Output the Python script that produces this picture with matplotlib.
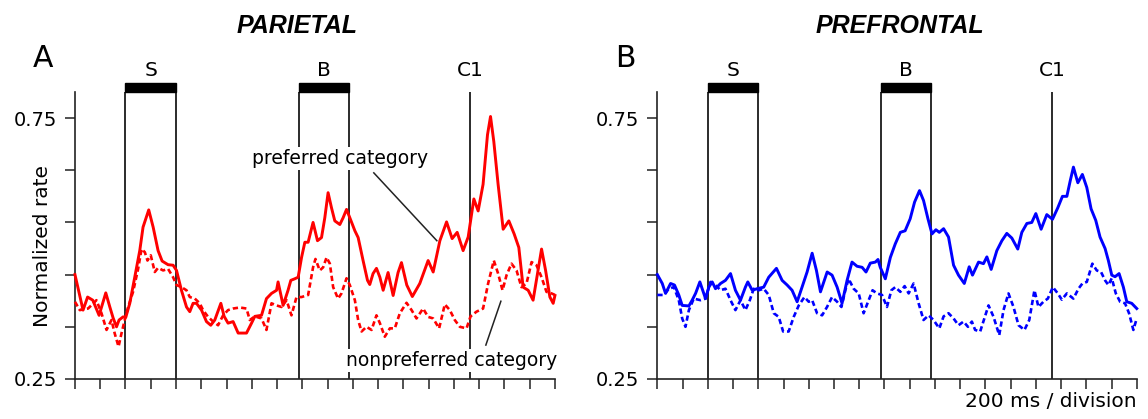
import numpy as np
import matplotlib.pyplot as plt
from matplotlib.patches import Rectangle

# Event times (ms, relative to sample onset)
events = {'S': (0, 400), 'B': (1370, 1770)}
c1_time = 2730

# Parietal, preferred category (solid red)
par_pref_t = [-400, -336, -300, -259, -209, -156, -124, -98, -71, -51, -19, 2, 34, 74, 113, 139,
              184, 219, 258, 290, 337, 377, 404, 443, 483, 509, 535, 562, 602, 641, 675, 707,
              755, 781, 812, 852, 892, 918, 958, 998, 1024, 1077, 1116, 1156, 1196, 1208, 1248,
              1287, 1309, 1340, 1367, 1394, 1420, 1446, 1485, 1520, 1552, 1578, 1604, 1631,
              1657, 1697, 1723, 1750, 1776, 1816, 1842, 1881, 1916, 1934, 1960, 1987, 2014,
              2040, 2079, 2119, 2158, 2185, 2227, 2271, 2330, 2396, 2436, 2489, 2542, 2586,
              2626, 2673, 2713, 2758, 2792, 2831, 2866, 2890, 2916, 2950, 2990, 3035, 3077,
              3114, 3148, 3188, 3227, 3262, 3294, 3326, 3360, 3386, 3400]
par_pref_v = [0.450, 0.382, 0.407, 0.401, 0.372, 0.415, 0.388, 0.367, 0.350, 0.363, 0.369, 0.368,
              0.395, 0.446, 0.496, 0.541, 0.574, 0.541, 0.496, 0.476, 0.469, 0.468, 0.458, 0.420,
              0.388, 0.379, 0.395, 0.395, 0.382, 0.360, 0.353, 0.363, 0.395, 0.370, 0.357, 0.360,
              0.338, 0.338, 0.338, 0.357, 0.370, 0.372, 0.404, 0.414, 0.420, 0.436, 0.391, 0.420,
              0.439, 0.442, 0.445, 0.483, 0.512, 0.512, 0.550, 0.515, 0.521, 0.559, 0.607, 0.578,
              0.553, 0.546, 0.559, 0.575, 0.559, 0.534, 0.521, 0.477, 0.439, 0.431, 0.452, 0.462,
              0.445, 0.420, 0.454, 0.410, 0.454, 0.473, 0.430, 0.408, 0.433, 0.477, 0.455, 0.515,
              0.551, 0.519, 0.531, 0.496, 0.522, 0.595, 0.572, 0.623, 0.718, 0.753, 0.705, 0.623,
              0.537, 0.553, 0.528, 0.502, 0.426, 0.420, 0.401, 0.452, 0.499, 0.458, 0.407, 0.395,
              0.410]

# Parietal, nonpreferred category (dashed red)
par_non_t = [-400, -362, -296, -230, -190, -150, -111, -85, -55, -32, -6, 21, 60, 100, 127, 153,
             174, 200, 232, 258, 298, 337, 377, 404, 443, 483, 509, 549, 588, 614, 654, 694, 733,
             773, 812, 852, 905, 958, 984, 1024, 1077, 1116, 1156, 1196, 1235, 1275, 1314, 1354,
             1394, 1446, 1485, 1504, 1538, 1565, 1592, 1618, 1644, 1683, 1710, 1750, 1776, 1816,
             1842, 1869, 1908, 1948, 1987, 2014, 2053, 2093, 2132, 2172, 2225, 2265, 2304, 2356,
             2396, 2436, 2483, 2528, 2568, 2607, 2647, 2700, 2732, 2779, 2831, 2871, 2916, 2950,
             2985, 3017, 3056, 3096, 3135, 3175, 3215, 3254, 3294, 3333, 3373, 3400]
par_non_v = [0.398, 0.382, 0.385, 0.401, 0.376, 0.344, 0.363, 0.337, 0.312, 0.337, 0.363, 0.388,
             0.417, 0.461, 0.499, 0.493, 0.477, 0.487, 0.455, 0.463, 0.458, 0.461, 0.445, 0.430,
             0.426, 0.420, 0.407, 0.404, 0.395, 0.382, 0.369, 0.360, 0.353, 0.372, 0.382, 0.385,
             0.387, 0.385, 0.363, 0.370, 0.366, 0.344, 0.395, 0.391, 0.388, 0.401, 0.372, 0.407,
             0.407, 0.411, 0.464, 0.480, 0.458, 0.464, 0.483, 0.471, 0.426, 0.404, 0.414, 0.443,
             0.430, 0.401, 0.363, 0.341, 0.350, 0.344, 0.372, 0.357, 0.331, 0.347, 0.347, 0.376,
             0.396, 0.382, 0.366, 0.385, 0.369, 0.366, 0.347, 0.393, 0.382, 0.363, 0.350, 0.347,
             0.370, 0.379, 0.385, 0.433, 0.477, 0.452, 0.420, 0.449, 0.471, 0.458, 0.426, 0.433,
             0.474, 0.468, 0.445, 0.417, 0.414, 0.411]

# Prefrontal, preferred category (solid blue)
pfc_pref_t = [-400, -361, -335, -295, -264, -230, -203, -150, -124, -97, -63, -18, 8, 35, 61, 101,
              140, 180, 219, 259, 298, 317, 352, 391, 443, 483, 544, 589, 629, 668, 708, 747, 787,
              827, 861, 893, 946, 985, 1025, 1064, 1104, 1143, 1183, 1223, 1254, 1288, 1328, 1349,
              1367, 1407, 1447, 1486, 1526, 1564, 1604, 1639, 1678, 1710, 1745, 1777, 1808, 1835,
              1869, 1908, 1948, 1987, 2033, 2072, 2098, 2146, 2185, 2212, 2246, 2291, 2331, 2370,
              2410, 2457, 2489, 2529, 2568, 2600, 2642, 2687, 2732, 2774, 2811, 2846, 2872, 2898,
              2933, 2969, 3004, 3038, 3075, 3109, 3149, 3175, 3202, 3228, 3260, 3294, 3321, 3360,
              3400]
pfc_pref_v = [0.450, 0.433, 0.414, 0.433, 0.430, 0.411, 0.391, 0.390, 0.401, 0.414, 0.436, 0.404,
              0.426, 0.436, 0.423, 0.433, 0.439, 0.452, 0.420, 0.401, 0.426, 0.436, 0.420, 0.423,
              0.426, 0.445, 0.462, 0.439, 0.430, 0.420, 0.398, 0.426, 0.455, 0.491, 0.458, 0.417,
              0.455, 0.449, 0.426, 0.395, 0.439, 0.474, 0.466, 0.464, 0.455, 0.472, 0.474, 0.479,
              0.464, 0.442, 0.483, 0.509, 0.531, 0.534, 0.557, 0.589, 0.611, 0.592, 0.557, 0.528,
              0.536, 0.531, 0.538, 0.522, 0.468, 0.449, 0.433, 0.465, 0.449, 0.474, 0.471, 0.484,
              0.460, 0.496, 0.515, 0.529, 0.520, 0.499, 0.531, 0.548, 0.550, 0.567, 0.537, 0.565,
              0.556, 0.578, 0.600, 0.600, 0.629, 0.656, 0.626, 0.642, 0.617, 0.576, 0.554, 0.522,
              0.500, 0.477, 0.449, 0.446, 0.452, 0.426, 0.398, 0.395, 0.385]

# Prefrontal, nonpreferred category (dashed blue)
pfc_non_t = [-400, -348, -309, -269, -230, -203, -177, -150, -111, -58, -18, 21, 61, 101, 140, 180,
             219, 259, 298, 333, 364, 404, 443, 483, 523, 562, 597, 641, 681, 721, 766, 800, 827,
             866, 906, 945, 985, 1025, 1059, 1090, 1116, 1156, 1196, 1235, 1275, 1306, 1341, 1381,
             1420, 1455, 1486, 1526, 1560, 1592, 1631, 1671, 1710, 1750, 1789, 1835, 1869, 1908,
             1948, 1987, 2027, 2062, 2093, 2119, 2159, 2225, 2265, 2310, 2344, 2383, 2423, 2463,
             2510, 2548, 2589, 2621, 2660, 2695, 2735, 2774, 2806, 2846, 2898, 2938, 2969, 3004,
             3048, 3083, 3117, 3149, 3175, 3202, 3234, 3268, 3307, 3339, 3373, 3400]
pfc_non_v = [0.411, 0.411, 0.423, 0.426, 0.401, 0.366, 0.350, 0.382, 0.404, 0.401, 0.404, 0.436,
             0.430, 0.420, 0.423, 0.401, 0.382, 0.401, 0.382, 0.401, 0.423, 0.420, 0.423, 0.411,
             0.376, 0.369, 0.341, 0.341, 0.369, 0.391, 0.407, 0.398, 0.401, 0.376, 0.372, 0.388,
             0.407, 0.398, 0.388, 0.420, 0.442, 0.423, 0.414, 0.376, 0.401, 0.420, 0.414, 0.411,
             0.388, 0.420, 0.426, 0.417, 0.428, 0.414, 0.433, 0.395, 0.363, 0.372, 0.363, 0.347,
             0.370, 0.376, 0.366, 0.353, 0.360, 0.350, 0.360, 0.344, 0.341, 0.391, 0.369, 0.334,
             0.382, 0.414, 0.388, 0.353, 0.344, 0.363, 0.420, 0.388, 0.398, 0.404, 0.426, 0.414,
             0.402, 0.414, 0.404, 0.423, 0.433, 0.436, 0.471, 0.458, 0.455, 0.439, 0.430, 0.443,
             0.414, 0.398, 0.395, 0.376, 0.344, 0.366]

x_ticks = np.arange(-400, 3401, 200)
y_ticks = [0.25, 0.35, 0.45, 0.55, 0.65, 0.75]
y_ticklabels = ['0.25', '', '', '', '', '0.75']

plt.rcParams['font.family'] = 'DejaVu Sans'
fig = plt.figure(figsize=(11.48, 4.19), dpi=100)
ax1 = fig.add_axes([0.0653, 0.0955, 0.4181, 0.685])
ax2 = fig.add_axes([0.5726, 0.0955, 0.4176, 0.685])

dash = (0, (2.0, 1.2))


def setup(ax):
    ax.set_xlim(-400, 3400)
    ax.set_ylim(0.25, 0.80)
    for s in ['top', 'right']:
        ax.spines[s].set_visible(False)
    for s in ['left', 'bottom']:
        ax.spines[s].set_linewidth(1.2)
        ax.spines[s].set_color('#222222')
    ax.set_xticks(x_ticks)
    ax.set_xticklabels([])
    ax.set_yticks(y_ticks)
    ax.set_yticklabels(y_ticklabels)
    ax.tick_params(axis='both', direction='out', length=7.2, width=1.1, color='#222222')
    ax.tick_params(axis='y', labelsize=14, pad=6)
    # event markers
    for name, (on, off) in events.items():
        ax.vlines([on, off], 0.25, 0.80, color='#1a1a1a', lw=1.3, zorder=2)
        ax.add_patch(Rectangle((on, 0.80), off - on, 0.017, color='black',
                               clip_on=False, zorder=3))
        ax.text((on + off) / 2, 0.83, name, ha='center', va='baseline', fontsize=14.5)
    ax.vlines(c1_time, 0.25, 0.80, color='#1a1a1a', lw=1.3, zorder=2)
    ax.text(c1_time, 0.83, 'C1', ha='center', va='baseline', fontsize=14.5)


setup(ax1)
setup(ax2)

line_kw = dict(solid_joinstyle='round', dash_joinstyle='round', clip_on=False)
ax1.plot(par_non_t, par_non_v, color='#ff0000', lw=1.9, ls=dash, zorder=4, **line_kw)
ax1.plot(par_pref_t, par_pref_v, color='#ff0000', lw=2.1, zorder=5, **line_kw)
ax2.plot(pfc_non_t, pfc_non_v, color='#0000ff', lw=1.9, ls=dash, zorder=4, **line_kw)
ax2.plot(pfc_pref_t, pfc_pref_v, color='#0000ff', lw=2.1, zorder=5, **line_kw)

# annotations (parietal)
ax1.plot([1966, 2465], [0.645, 0.515], color='#222222', lw=1.1, zorder=6)
ax1.plot([2853, 2972], [0.315, 0.399], color='#222222', lw=1.1, zorder=6)
ax1.text(1697, 0.672, 'preferred category', ha='center', va='center', fontsize=13.5,
         zorder=7, bbox=dict(facecolor='white', edgecolor='none', pad=1.5))
ax1.text(2583, 0.285, 'nonpreferred category', ha='center', va='center', fontsize=13.5,
         zorder=7, bbox=dict(facecolor='white', edgecolor='none', pad=1.5))

fig.text(0.0287, 0.840, 'A', fontsize=21.5, va='baseline', ha='left')
fig.text(0.5357, 0.840, 'B', fontsize=21.5, va='baseline', ha='left')
fig.text(0.2587, 0.921, 'PARIETAL', fontsize=18, fontweight='bold', fontstyle='italic',
         family='Liberation Sans', ha='center', va='baseline')
fig.text(0.784, 0.921, 'PREFRONTAL', fontsize=18, fontweight='bold', fontstyle='italic',
         family='Liberation Sans', ha='center', va='baseline')
fig.text(42.5 / 1148, 1 - 246 / 419, 'Normalized rate', rotation=90, fontsize=14.5,
         ha='center', va='center')
fig.text(0.990, 0.0286, '200 ms / division', fontsize=14.5, ha='right', va='baseline')

fig.savefig('out.png', dpi=100)
